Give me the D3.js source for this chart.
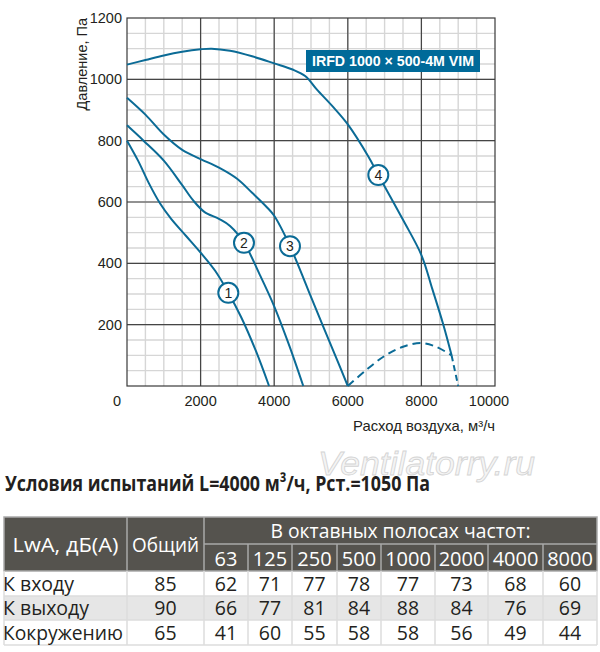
<!DOCTYPE html>
<html>
<head>
<meta charset="utf-8">
<script src="https://cdn.jsdelivr.net/npm/d3@7"></script>
<style>
  body { margin: 0; background: #fff; }
  svg { display: block; }
</style>
</head>
<body>
<div class="chart"></div>
<script>
// fan curves, [flow m3/h, pressure Pa]
var curve1 = [[0,800],[300,735],[600,660],[900,595],[1200,545],[1600,490],[2000,435],[2400,375],[2750,305],[3100,225],[3500,115],[3860,0]];
var curve2 = [[0,850],[450,800],[1000,735],[1500,655],[1800,605],[2100,568],[2500,545],[2800,522],[3180,467],[3600,365],[4000,260],[4400,135],[4790,0]];
var curve3 = [[0,940],[500,885],[1000,820],[1500,770],[2000,740],[2500,712],[3000,675],[3400,630],[3800,583],[4000,555],[4430,456],[4900,320],[5335,193],[5700,88],[6000,0]];
var curve4 = [[0,1048],[500,1063],[1000,1078],[1500,1090],[2000,1098],[2300,1100],[2800,1093],[3400,1075],[4000,1052],[4500,1032],[4850,1010],[5150,968],[5600,910],[6000,853],[6550,750],[6830,688],[7500,542],[8000,427],[8300,315],[8600,198],[8820,100]];
var curve4Tail = [[8820,100],[9000,0]];
var stallArc = [[6000,0],[6500,52],[7000,98],[7500,128],[8000,140],[8400,128],[8820,100]];

// circled numbers on the curves
var curveLabels = ["1","2","3","4"];
var labelPoints = [[2753,304],[3179,467],[4429,456],[6829,688]];

var flowTicks = [0,2000,4000,6000,8000,10000];
var pressureTicks = [200,400,600,800,1000,1200];

var modelName = "IRFD 1000 × 500-4M VIM";
var testConditions = "Условия испытаний L=4000 м³/ч, Рст.=1050 Па";

// noise table
var headLabels = ["LwA, дБ(А)", "Общий"];
var bandTitle = "В октавных полосах частот:";
var bands = ["63","125","250","500","1000","2000","4000","8000"];
var rowNames = ["К входу","К выходу","Кокружению"];
var totalLevel = [85,90,65];
var inletLevels = [62,71,77,78,77,73,68,60];
var outletLevels = [66,77,81,84,88,84,76,69];
var ambientLevels = [41,60,55,58,58,56,49,44];

var blue = "#0b6b96";
var ink = "#231f20";

var svg = d3.select("div.chart").append("svg")
    .attr("width", 600)
    .attr("height", 652);

var x = d3.scaleLinear().domain([0,10000]).range([127,495]);
var y = d3.scaleLinear().domain([0,1200]).range([386,18]);

//minor grid
var g = svg.append("g");
g.selectAll(".vminor")
    .data(d3.range(500,10000,500))
    .enter().append("line")
      .attr("x1", d => x(d)).attr("x2", d => x(d))
      .attr("y1", y(0)).attr("y2", y(1200))
      .attr("stroke", "#d6d6d6").attr("stroke-width", 1.4);
g.selectAll(".hminor")
    .data(d3.range(50,1200,50))
    .enter().append("line")
      .attr("x1", x(0)).attr("x2", x(10000))
      .attr("y1", d => y(d)).attr("y2", d => y(d))
      .attr("stroke", "#d6d6d6").attr("stroke-width", 1.4);

//major grid
g.selectAll(".vmajor")
    .data(flowTicks.slice(1,-1))
    .enter().append("line")
      .attr("x1", d => x(d)).attr("x2", d => x(d))
      .attr("y1", y(0)).attr("y2", y(1200))
      .attr("stroke", "#454545").attr("stroke-width", 1.2);
g.selectAll(".hmajor")
    .data(pressureTicks.slice(0,-1))
    .enter().append("line")
      .attr("x1", x(0)).attr("x2", x(10000))
      .attr("y1", d => y(d)).attr("y2", d => y(d))
      .attr("stroke", "#454545").attr("stroke-width", 1.2);

g.append("rect")
    .attr("x", x(0)).attr("y", y(1200))
    .attr("width", x(10000)-x(0)).attr("height", y(0)-y(1200))
    .attr("fill", "none").attr("stroke", "#3a3a3a").attr("stroke-width", 1.2);

//tick labels
svg.append("g").selectAll("text")
    .data(pressureTicks)
    .enter().append("text")
      .attr("x", 122)
      .attr("y", d => y(d) + 5)
      .attr("text-anchor", "end")
      .attr("font-family", "Liberation Sans, Arial, sans-serif")
      .attr("font-size", 14.5)
      .attr("fill", ink)
      .text(d => d);

svg.append("g").selectAll("text")
    .data(flowTicks)
    .enter().append("text")
      .attr("x", d => x(d) + (d === 0 ? -10 : d === 10000 ? -6 : 0))
      .attr("y", 406)
      .attr("text-anchor", "middle")
      .attr("font-family", "Liberation Sans, Arial, sans-serif")
      .attr("font-size", 14.5)
      .attr("fill", ink)
      .text(d => d);

svg.append("text")
    .attr("transform", "translate(87,18) rotate(-90)")
    .attr("text-anchor", "end")
    .attr("font-family", "Liberation Sans, Arial, sans-serif")
    .attr("font-size", 14.5)
    .attr("fill", ink)
    .text("Давление, Па");

svg.append("text")
    .attr("x", 495)
    .attr("y", 431)
    .attr("text-anchor", "end")
    .attr("font-family", "Liberation Sans, Arial, sans-serif")
    .attr("font-size", 14.5)
    .attr("textLength", 142)
    .attr("lengthAdjust", "spacingAndGlyphs")
    .attr("fill", ink)
    .text("Расход воздуха, м³/ч");

//curves
var line = d3.line()
    .x(d => x(d[0]))
    .y(d => y(d[1]))
    .curve(d3.curveCatmullRom.alpha(0.5));

svg.append("g").selectAll("path")
    .data([curve1, curve2, curve3, curve4, curve4Tail])
    .enter().append("path")
      .attr("d", line)
      .attr("fill", "none")
      .attr("stroke", blue)
      .attr("stroke-width", 2)
      .attr("stroke-dasharray", (d,i) => i === 4 ? "6,4" : null);

svg.append("path")
    .datum(stallArc)
    .attr("d", line)
    .attr("fill", "none")
    .attr("stroke", blue)
    .attr("stroke-width", 2)
    .attr("stroke-dasharray", "8,5");

var marks = svg.append("g").selectAll("g")
    .data(labelPoints)
    .enter().append("g")
      .attr("transform", d => `translate(${x(d[0])},${y(d[1])})`);
marks.append("circle")
    .attr("r", 10)
    .attr("fill", "#fff")
    .attr("stroke", blue)
    .attr("stroke-width", 2);
marks.append("text")
    .attr("y", 5)
    .attr("text-anchor", "middle")
    .attr("font-family", "Liberation Sans, Arial, sans-serif")
    .attr("font-size", 14)
    .attr("fill", ink)
    .text((d,i) => curveLabels[i]);

//model badge
svg.append("rect")
    .attr("x", 306).attr("y", 50)
    .attr("width", 174).attr("height", 22)
    .attr("fill", "#006a99");
svg.append("text")
    .attr("x", 393).attr("y", 66)
    .attr("text-anchor", "middle")
    .attr("font-family", "Liberation Sans, Arial, sans-serif")
    .attr("font-weight", "bold")
    .attr("font-size", 14)
    .attr("textLength", 162)
    .attr("lengthAdjust", "spacingAndGlyphs")
    .attr("fill", "#fff")
    .text(modelName);

//watermark
svg.append("text")
    .attr("x", 318).attr("y", 475)
    .attr("font-family", "Liberation Sans, Arial, sans-serif")
    .attr("font-style", "italic")
    .attr("font-size", 33)
    .attr("textLength", 217)
    .attr("lengthAdjust", "spacingAndGlyphs")
    .attr("fill", "#f4f4f4")
    .attr("stroke", "#d4d4d4")
    .attr("stroke-width", 0.8)
    .text("Ventilatorry.ru");

svg.append("text")
    .attr("x", 5).attr("y", 491)
    .attr("font-family", "Open Sans, sans-serif")
    .attr("font-weight", "bold")
    .attr("font-size", 22)
    .attr("textLength", 425)
    .attr("lengthAdjust", "spacingAndGlyphs")
    .attr("fill", ink)
    .text(testConditions);

//noise table
var colEdges = [4,127,204,248,292,337,381,435,488,543,597];
var rowEdges = [517,544,571,596,620,645];
var tableFont = "Open Sans, sans-serif";
var headFill = "#55534e";

var table = svg.append("g");

table.append("rect")
    .attr("x", colEdges[0]).attr("y", rowEdges[0])
    .attr("width", colEdges[10]-colEdges[0]).attr("height", rowEdges[2]-rowEdges[0])
    .attr("fill", headFill);

table.append("rect")
    .attr("x", colEdges[0]).attr("y", rowEdges[3])
    .attr("width", colEdges[10]-colEdges[0]).attr("height", rowEdges[4]-rowEdges[3])
    .attr("fill", "#e6e6e6");

//header lines
table.append("rect")
    .attr("x", colEdges[0]).attr("y", rowEdges[0])
    .attr("width", colEdges[10]-colEdges[0]).attr("height", rowEdges[2]-rowEdges[0])
    .attr("fill", "none").attr("stroke", "#a9a9a9").attr("stroke-width", 1.5);
table.append("line")
    .attr("x1", colEdges[2]).attr("x2", colEdges[10])
    .attr("y1", rowEdges[1]).attr("y2", rowEdges[1])
    .attr("stroke", "#a9a9a9").attr("stroke-width", 1.5);
table.selectAll(".hcol")
    .data(colEdges.slice(1,-1))
    .enter().append("line")
      .attr("x1", d => d).attr("x2", d => d)
      .attr("y1", (d,i) => i < 2 ? rowEdges[0] : rowEdges[1])
      .attr("y2", rowEdges[2])
      .attr("stroke", "#a9a9a9").attr("stroke-width", 1.5);

//body lines
table.selectAll(".bcol")
    .data(colEdges)
    .enter().append("line")
      .attr("x1", d => d).attr("x2", d => d)
      .attr("y1", rowEdges[2]).attr("y2", rowEdges[5])
      .attr("stroke", "#dcdcdc").attr("stroke-width", 1.5);
table.selectAll(".brow")
    .data(rowEdges.slice(3))
    .enter().append("line")
      .attr("x1", colEdges[0]).attr("x2", colEdges[10])
      .attr("y1", d => d).attr("y2", d => d)
      .attr("stroke", "#dcdcdc").attr("stroke-width", 1.5);

var mid = (a,b) => (a+b)/2;

table.selectAll(".headlab")
    .data(headLabels)
    .enter().append("text")
      .attr("x", (d,i) => mid(colEdges[i], colEdges[i+1]))
      .attr("y", mid(rowEdges[0], rowEdges[2]) + 8)
      .attr("text-anchor", "middle")
      .attr("font-family", tableFont)
      .attr("font-size", 20)
      .attr("fill", "#fff")
      .attr("textLength", (d,i) => i === 0 ? 106 : 67)
      .attr("lengthAdjust", "spacingAndGlyphs")
      .text(d => d);

table.append("text")
    .attr("x", mid(colEdges[2], colEdges[10]))
    .attr("y", rowEdges[1] - 6)
    .attr("text-anchor", "middle")
    .attr("font-family", tableFont)
    .attr("font-size", 20)
    .attr("fill", "#fff")
    .attr("textLength", 260)
    .attr("lengthAdjust", "spacingAndGlyphs")
    .text(bandTitle);

table.selectAll(".band")
    .data(bands)
    .enter().append("text")
      .attr("x", (d,i) => mid(colEdges[i+2], colEdges[i+3]))
      .attr("y", rowEdges[2] - 5)
      .attr("text-anchor", "middle")
      .attr("font-family", tableFont)
      .attr("font-size", 20)
      .attr("fill", "#fff")
      .text(d => d);

var bodyRows = [inletLevels, outletLevels, ambientLevels];
bodyRows.forEach(function(levels, r){
    var yBase = rowEdges[r+3] - 5;
    table.append("text")
        .attr("x", 3).attr("y", yBase)
        .attr("font-family", tableFont)
        .attr("font-size", 19.5)
        .attr("fill", ink)
        .attr("textLength", r === 2 ? 120 : null)
        .attr("lengthAdjust", "spacingAndGlyphs")
        .text(rowNames[r]);
    table.append("text")
        .attr("x", mid(colEdges[1], colEdges[2])).attr("y", yBase)
        .attr("text-anchor", "middle")
        .attr("font-family", tableFont)
        .attr("font-size", 19.5)
        .attr("fill", ink)
        .text(totalLevel[r]);
    table.selectAll(".v" + r)
        .data(levels)
        .enter().append("text")
          .attr("x", (d,i) => mid(colEdges[i+2], colEdges[i+3]))
          .attr("y", yBase)
          .attr("text-anchor", "middle")
          .attr("font-family", tableFont)
          .attr("font-size", 19.5)
          .attr("fill", ink)
          .text(d => d);
});
</script>
</body>
</html>
